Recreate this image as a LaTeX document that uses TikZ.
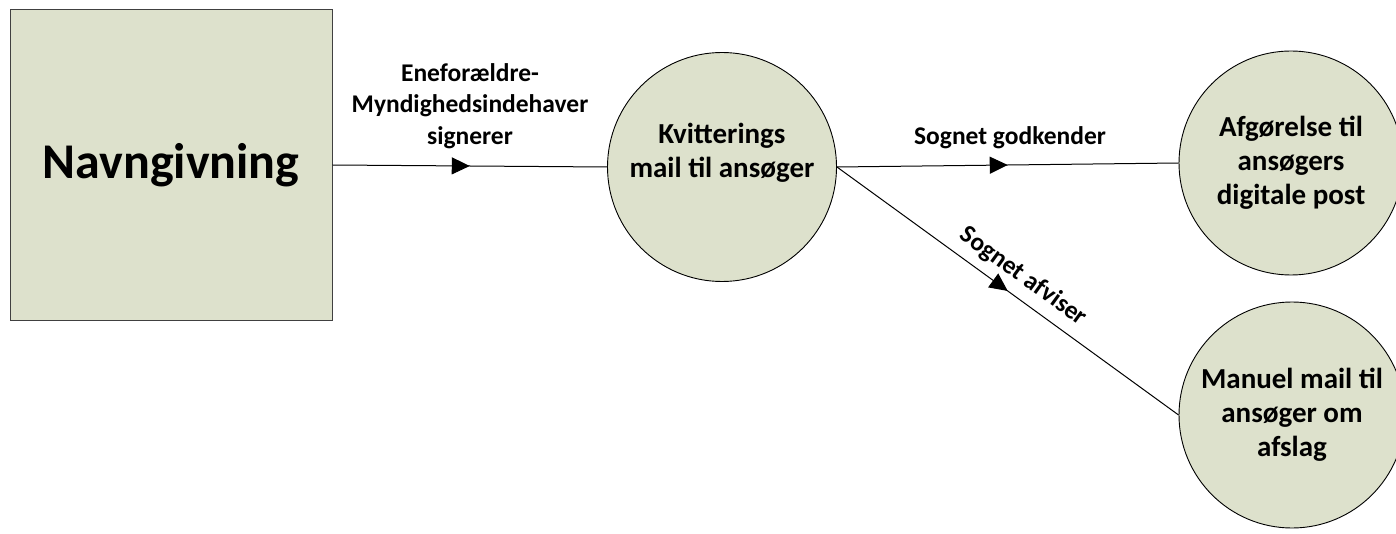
\documentclass[tikz,border=0pt]{standalone}
\usepackage{fontspec}
\setmainfont{Carlito}
\usepackage{xcolor}
\definecolor{StepGreen}{HTML}{DDE1CC}
\definecolor{StepBorder}{HTML}{404040}
\usepackage{tikz}
\usetikzlibrary{positioning,arrows.meta,decorations.markings}

\tikzset{
  boxstyle/.style={draw=StepBorder, line width=1pt, fill=StepGreen, minimum width=322pt, minimum height=311pt, inner sep=0pt},
  roundstep/.style={draw=black, line width=0.9pt, fill=StepGreen, circle, inner sep=0pt, align=center, font=\fontsize{29pt}{34pt}\selectfont\bfseries},
  edgelabel/.style={align=center, font=\fontsize{25.5pt}{31.5pt}\selectfont\bfseries},
  midarrow/.style={line width=1pt, postaction={decorate,
      decoration={markings, mark=at position 0.5 with {\arrow{Triangle[length=18pt,width=17pt]}}}}}
}

\begin{document}
\begin{tikzpicture}[x=1pt,y=-1pt]
    \useasboundingbox (0,0) rectangle (1396,534);
    \clip (0,0) rectangle (1396,534);

    \node[boxstyle] (navn) at (171,165) {\fontsize{50pt}{58pt}\selectfont\bfseries Navngivning};

    \node[roundstep, minimum size=229pt] (kvit) at (722,167) {Kvitterings\\mail til ansøger\\\mbox{}};
    \node[roundstep, minimum size=224pt] (afg) at (1291,163) {Afgørelse til\\ansøgers\\digitale post};
    \node[roundstep, minimum size=226pt] (afslag) at (1292,415) {Manuel mail til\\ansøger om\\afslag};

    \draw[midarrow] (navn.east) -- (kvit.west);
    \draw[midarrow] (kvit.east) -- (afg.west);
    \draw[midarrow] (kvit.east) -- node[edgelabel, sloped, above=6pt, pos=0.51] (afvis) {Sognet afviser} (afslag.west);

    \node[edgelabel] (signer) at (470,106) {Eneforældre-\\Myndighedsindehaver\\signerer};
    \node[edgelabel] (godkend) at (1010,138) {Sognet godkender};
\end{tikzpicture}
\end{document}
